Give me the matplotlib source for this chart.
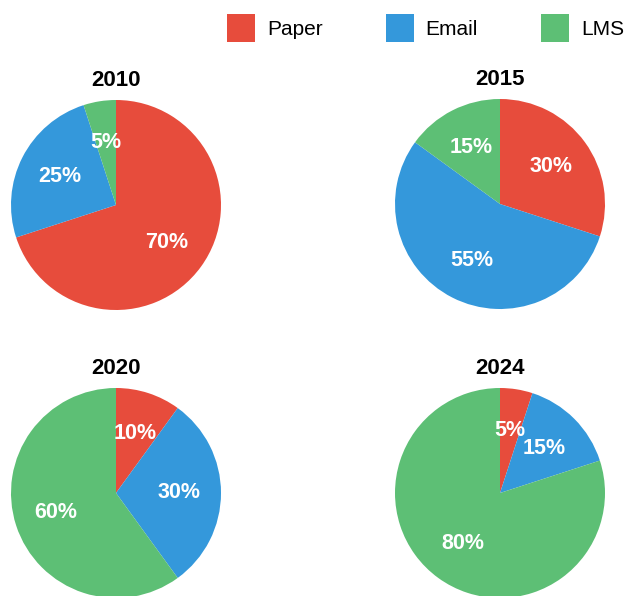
import matplotlib
matplotlib.use("Agg")
import matplotlib.pyplot as plt
from matplotlib.patches import Patch

plt.rcParams['font.family'] = ['Liberation Sans', 'DejaVu Sans']

categories = ["Paper", "Email", "LMS"]
years = ["2010", "2015", "2020", "2024"]
paper = [70, 30, 10, 5]
email = [25, 55, 30, 15]
lms = [5, 15, 60, 80]
colors = ["#E74C3C", "#3498DB", "#5DBF75"]

W, H = 631, 596
fig = plt.figure(figsize=(W / 100, H / 100), dpi=100)

R = 105  # pie radius in px
centers = [(116, 205), (500, 204), (116, 493), (500, 493)]

for i, yr in enumerate(years):
    cx, cy = centers[i]
    left = (cx - R) / W
    bottom = (H - cy - R) / H
    ax = fig.add_axes([left, bottom, 2 * R / W, 2 * R / H])
    vals = [paper[i], email[i], lms[i]]
    wedges, texts, autotexts = ax.pie(
        vals, colors=colors, startangle=90, counterclock=False,
        autopct=lambda p: f"{p:.0f}%", pctdistance=0.6, radius=1,
        textprops=dict(color="white", fontsize=15.5, fontweight="bold"))
    ax.set_xlim(-1, 1)
    ax.set_ylim(-1, 1)
    ax.set_aspect("equal")
    ax.axis("off")
    ax.set_title(yr, fontsize=16, fontweight="bold", pad=10)

handles = [Patch(facecolor=c, edgecolor="none") for c in colors]
fig.legend(handles, categories, loc="upper left",
           bbox_to_anchor=(227 / W, 1 - 14 / H), ncol=3, frameon=False,
           fontsize=15, handlelength=1.344, handleheight=1.69,
           handletextpad=0.58, columnspacing=3.02, borderpad=0,
           borderaxespad=0)

fig.savefig("out.png", dpi=100)
